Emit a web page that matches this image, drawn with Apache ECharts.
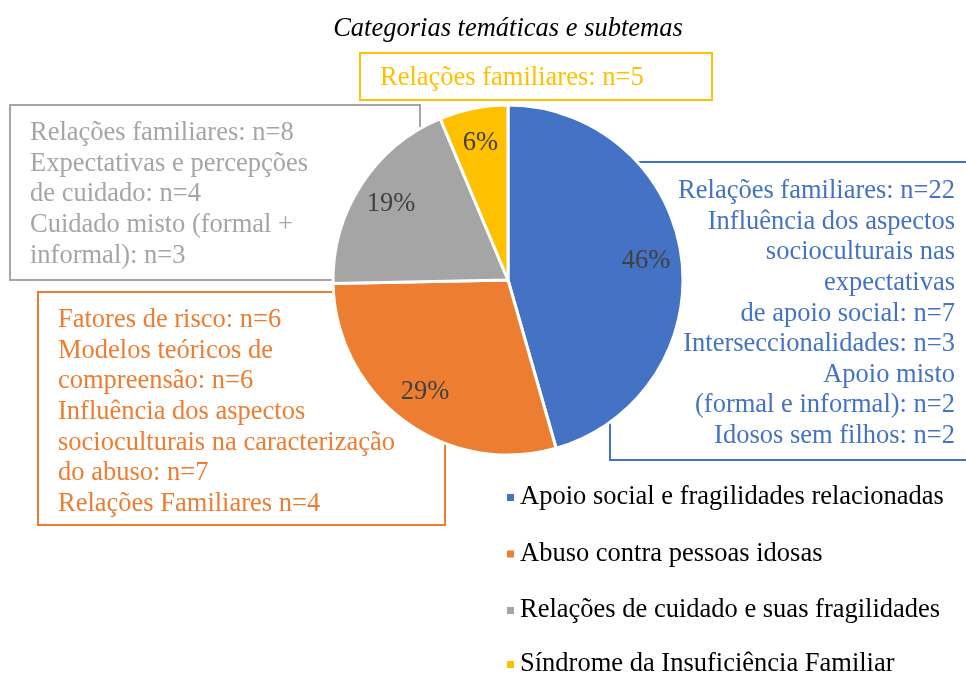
<!DOCTYPE html>
<html>
<head>
<meta charset="utf-8">
<script src="https://cdn.jsdelivr.net/npm/echarts@6/dist/echarts.min.js"></script>
<style>
  html, body { margin: 0; padding: 0; background: #fff; }
  #chart { width: 966px; height: 675px; }
</style>
</head>
<body>
<div id="chart"></div>
<script>
// categorias e contagens (n total por categoria)
const categories = [
  "Apoio social e fragilidades relacionadas",
  "Abuso contra pessoas idosas",
  "Relações de cuidado e suas fragilidades",
  "Síndrome da Insuficiência Familiar"
];
const counts = [36, 23, 15, 5];
const colors = ["#4472C4", "#ED7D31", "#A5A5A5", "#FFC000"];

// subtemas de cada caixa
const blueLines = [
  "Relações familiares: n=22",
  "Influência dos aspectos",
  "socioculturais nas",
  "expectativas",
  "de apoio social: n=7",
  "Interseccionalidades: n=3",
  "Apoio misto",
  "(formal e informal): n=2",
  "Idosos sem filhos: n=2"
];
const orangeLines = [
  "Fatores de risco: n=6",
  "Modelos teóricos de",
  "compreensão: n=6",
  "Influência dos aspectos",
  "socioculturais na caracterização",
  "do abuso: n=7",
  "Relações Familiares n=4"
];
const greyLines = [
  "Relações familiares: n=8",
  "Expectativas e percepções",
  "de cuidado: n=4",
  "Cuidado misto (formal +",
  "informal): n=3"
];
const yellowLines = ["Relações familiares: n=5"];

const FONT = "'Liberation Serif', 'Times New Roman', serif";

const chart = echarts.init(document.getElementById("chart"));

function box(x, y, w, h, color) {
  return {
    type: "rect",
    z: 0,
    shape: { x: x, y: y, width: w, height: h },
    style: { fill: "#fff", stroke: color, lineWidth: 2 }
  };
}
function boxText(lines, x, y, color, align) {
  return {
    type: "text",
    z: 0,
    style: {
      text: lines.join("\n"),
      x: x,
      y: y,
      fill: color,
      fontSize: 26.5,
      fontFamily: FONT,
      lineHeight: 30.6,
      align: align,
      verticalAlign: "top"
    }
  };
}

// a legenda é dividida em duas para a última linha não quebrar de coluna
function legend(data, top) {
  return {
    orient: "vertical",
    left: 505,
    top: top,
    padding: 0,
    itemWidth: 9,
    itemHeight: 9,
    itemGap: 29.5,
    icon: "rect",
    data: data,
    selectedMode: false,
    textStyle: { fontFamily: FONT, fontSize: 26.5, color: "#000" }
  };
}

chart.setOption({
  backgroundColor: "#fff",
  title: {
    text: "Categorias temáticas e subtemas",
    left: 508,
    textAlign: "center",
    top: 16,
    padding: 0,
    textStyle: {
      fontFamily: FONT,
      fontStyle: "italic",
      fontWeight: "normal",
      fontSize: 26.5,
      color: "#000"
    }
  },
  color: colors,
  legend: [
    legend(categories.slice(0, 3), 484),
    legend(categories.slice(3), 651)
  ],
  graphic: [
    box(10, 105, 410, 175, "#A5A5A5"),
    boxText(greyLines, 30, 118, "#A5A5A5", "left"),
    box(38, 292, 407, 233, "#ED7D31"),
    boxText(orangeLines, 58, 305, "#ED7D31", "left"),
    box(610, 162, 360, 298, "#4472C4"),
    boxText(blueLines, 955, 176, "#4472C4", "right"),
    box(360, 53, 352, 47, "#FFC000"),
    boxText(yellowLines, 380, 63, "#FFC000", "left")
  ],
  series: [
    {
      type: "pie",
      z: 5,
      center: [508, 280],
      radius: 175,
      startAngle: 90,
      clockwise: true,
      silent: true,
      label: { show: false },
      labelLine: { show: false },
      itemStyle: { borderColor: "#fff", borderWidth: 3 },
      data: categories.map((c, i) => ({ name: c, value: counts[i] }))
    },
    {
      // anel invisível só para posicionar os rótulos de percentagem
      type: "pie",
      z: 6,
      center: [508, 280],
      radius: [98, 175],
      startAngle: 90,
      clockwise: true,
      silent: true,
      percentPrecision: 0,
      itemStyle: { color: "rgba(0,0,0,0)", borderWidth: 0 },
      label: {
        show: true,
        position: "inside",
        formatter: "{d}%",
        fontFamily: FONT,
        fontSize: 26.5,
        color: "#404040"
      },
      labelLine: { show: false },
      data: categories.map((c, i) => ({ name: c, value: counts[i] }))
    }
  ]
});
</script>
</body>
</html>
